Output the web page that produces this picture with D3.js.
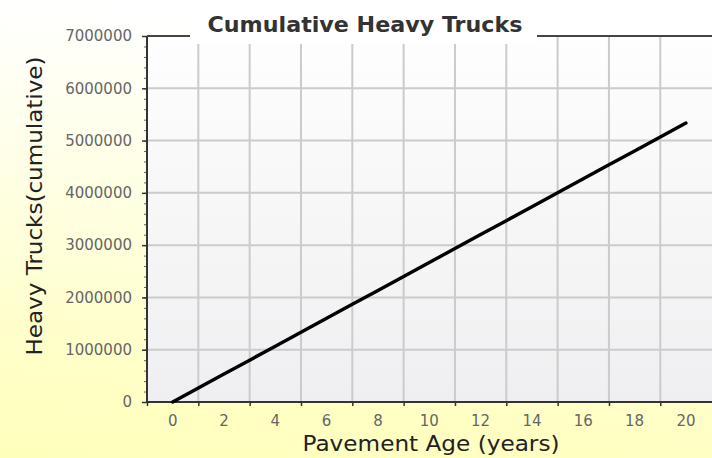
<!DOCTYPE html>
<html>
<head>
<meta charset="utf-8">
<script src="https://cdn.jsdelivr.net/npm/d3@7"></script>
<style>
body { margin: 0; background: #fff; }
svg { display: block; font-family: "DejaVu Sans", Verdana, sans-serif; }
</style>
</head>
<body>
<svg class="chart"></svg>
<script>
var width = 712;
var height = 458;

var margin = {
    top: 36,
    right: 0,
    bottom: 56,
    left: 147
};

// chart data
var years = [0, 1, 2, 3, 4, 5, 6, 7, 8, 9, 10, 11, 12, 13, 14, 15, 16, 17, 18, 19, 20];
var trucks = [0, 267000, 534000, 800000, 1067000, 1334000, 1601000, 1868000, 2134000, 2401000,
    2668000, 2935000, 3202000, 3468000, 3735000, 4002000, 4269000, 4536000, 4802000, 5069000, 5336000];
var xLabels = [0, 2, 4, 6, 8, 10, 12, 14, 16, 18, 20];
var xGrid = [1, 3, 5, 7, 9, 11, 13, 15, 17, 19];
var yTicks = [0, 1000000, 2000000, 3000000, 4000000, 5000000, 6000000, 7000000];

var chart = d3.select(".chart")
    .attr("width", width)
    .attr("height", height);

var defs = chart.append("defs");

// pale yellow at the bottom fading to white towards the top
var bg = defs.append("linearGradient")
    .attr("id", "bg")
    .attr("gradientUnits", "userSpaceOnUse")
    .attr("x1", 0).attr("y1", height)
    .attr("x2", 40).attr("y2", 0);
bg.append("stop").attr("offset", 0).attr("stop-color", "#ffffbc");
bg.append("stop").attr("offset", 0.2).attr("stop-color", "#ffffc6");
bg.append("stop").attr("offset", 0.6).attr("stop-color", "#ffffe4");
bg.append("stop").attr("offset", 1).attr("stop-color", "#ffffff");

var plotBg = defs.append("linearGradient")
    .attr("id", "plotbg")
    .attr("x1", 0).attr("y1", 1)
    .attr("x2", 0).attr("y2", 0);
plotBg.append("stop").attr("offset", 0).attr("stop-color", "#efeff1");
plotBg.append("stop").attr("offset", 1).attr("stop-color", "#fefefe");

chart.append("rect")
    .attr("width", width)
    .attr("height", height)
    .attr("fill", "url(#bg)");

var x = d3.scaleLinear()
    .domain([-1, 21])
    .range([margin.left, 711.6]);

var y = d3.scaleLinear()
    .domain([0, 7000000])
    .range([height - margin.bottom, margin.top]);

chart.append("rect")
    .attr("x", x(-1))
    .attr("y", y(7000000))
    .attr("width", width - x(-1))
    .attr("height", y(0) - y(7000000))
    .attr("fill", "url(#plotbg)");

// gridlines
chart.append("g")
    .selectAll("line")
    .data(xGrid)
    .enter()
    .append("line")
    .attr("x1", function(d) { return x(d); })
    .attr("x2", function(d) { return x(d); })
    .attr("y1", y(7000000))
    .attr("y2", y(0))
    .attr("stroke", "#cbcbcb")
    .attr("stroke-width", 2);

chart.append("g")
    .selectAll("line")
    .data(yTicks.slice(1, -1))
    .enter()
    .append("line")
    .attr("x1", x(-1))
    .attr("x2", width)
    .attr("y1", function(d) { return y(d); })
    .attr("y2", function(d) { return y(d); })
    .attr("stroke", "#cbcbcb")
    .attr("stroke-width", 2);

// y axis, minor then major ticks
var yMinor = d3.axisLeft(y)
    .ticks(28)
    .tickSize(3)
    .tickFormat("");

chart.append("g")
    .attr("transform", "translate(" + x(-1) + ",0)")
    .call(yMinor)
    .call(function(g) { g.select(".domain").remove(); })
    .selectAll("line").attr("stroke", "#666");

var yAxis = d3.axisLeft(y)
    .tickValues(yTicks)
    .tickSize(5)
    .tickPadding(10)
    .tickFormat(d3.format("d"));

var yg = chart.append("g")
    .attr("transform", "translate(" + x(-1) + ",0)")
    .call(yAxis);
yg.select(".domain").remove();
yg.selectAll("line").attr("stroke", "#333").attr("stroke-width", 1.5);
yg.selectAll("text")
    .attr("fill", "#666")
    .style("font-size", "15px")
    .style("font-family", "DejaVu Sans, sans-serif");

// x axis
var xAxis = d3.axisBottom(x)
    .tickValues([-1].concat(xGrid))
    .tickSize(4)
    .tickFormat("");

var xg = chart.append("g")
    .attr("transform", "translate(0," + y(0) + ")")
    .call(xAxis);
xg.select(".domain").remove();
xg.selectAll("line").attr("stroke", "#333").attr("stroke-width", 1.5);

chart.append("g")
    .selectAll("text")
    .data(xLabels)
    .enter()
    .append("text")
    .attr("x", function(d) { return x(d); })
    .attr("y", 426)
    .attr("text-anchor", "middle")
    .attr("fill", "#666")
    .style("font-size", "15px")
    .text(function(d) { return d; });

// axis lines and top border
chart.append("line")
    .attr("x1", x(-1)).attr("x2", x(-1))
    .attr("y1", y(7000000)).attr("y2", y(0))
    .attr("stroke", "#333").attr("stroke-width", 2);

chart.append("line")
    .attr("x1", x(-1)).attr("x2", width)
    .attr("y1", y(0)).attr("y2", y(0))
    .attr("stroke", "#333").attr("stroke-width", 2);

chart.append("line")
    .attr("x1", x(-1)).attr("x2", width)
    .attr("y1", y(7000000)).attr("y2", y(7000000))
    .attr("stroke", "#444").attr("stroke-width", 2);

// data line
var line = d3.line()
    .x(function(d, i) { return x(years[i]); })
    .y(function(d) { return y(d); });

chart.append("path")
    .datum(trucks)
    .attr("d", line)
    .attr("fill", "none")
    .attr("stroke", "#000")
    .attr("stroke-width", 3.4)
    .attr("stroke-linecap", "round");

// title with white box over the border
chart.append("rect")
    .attr("x", 190)
    .attr("y", 8)
    .attr("width", 347)
    .attr("height", 36)
    .attr("fill", "#fff");

chart.append("text")
    .attr("x", 365)
    .attr("y", 32)
    .attr("text-anchor", "middle")
    .attr("fill", "#333")
    .attr("textLength", 315)
    .attr("lengthAdjust", "spacingAndGlyphs")
    .style("font-size", "21px")
    .style("font-weight", "bold")
    .text("Cumulative Heavy Trucks");

chart.append("text")
    .attr("x", 431)
    .attr("y", 451)
    .attr("text-anchor", "middle")
    .attr("fill", "#222")
    .attr("textLength", 257)
    .attr("lengthAdjust", "spacingAndGlyphs")
    .style("font-size", "21px")
    .text("Pavement Age (years)");

chart.append("text")
    .attr("transform", "translate(42,206) rotate(-90)")
    .attr("text-anchor", "middle")
    .attr("fill", "#222")
    .attr("textLength", 299)
    .attr("lengthAdjust", "spacingAndGlyphs")
    .style("font-size", "21px")
    .text("Heavy Trucks(cumulative)");
</script>
</body>
</html>
